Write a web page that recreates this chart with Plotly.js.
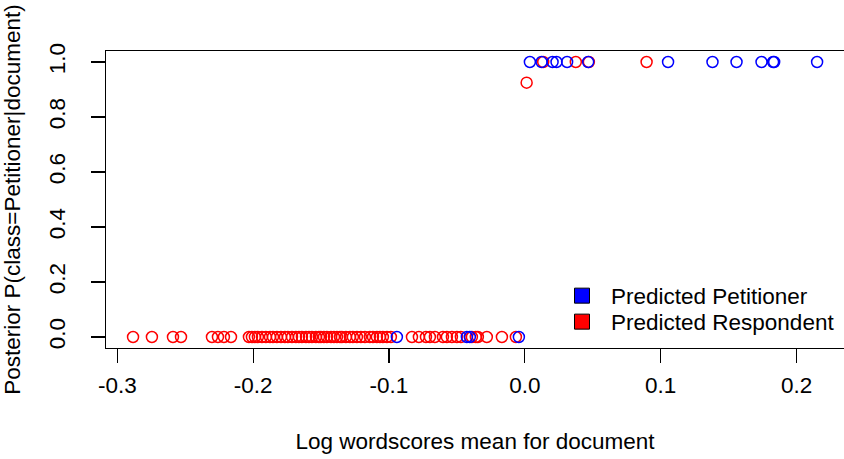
<!DOCTYPE html>
<html>
<head>
<meta charset="utf-8">
<script src="https://cdn.plot.ly/plotly-3.0.1.min.js"></script>
<style>html,body{margin:0;padding:0;background:#fff;}#chart{width:844px;height:459px;}</style>
</head>
<body>
<div id="chart"></div>
<script>
// Predicted Respondent (red) documents
var respX = [-0.2884,-0.2745,-0.2590,-0.2531,-0.2303,-0.2259,-0.2215,-0.2163,-0.2031,-0.2009,
  -0.1987,-0.1965,-0.1935,-0.1906,-0.1876,-0.1854,-0.1825,-0.1795,-0.1766,-0.1744,
  -0.1714,-0.1685,-0.1663,-0.1641,-0.1611,-0.1589,-0.1567,-0.1538,-0.1516,-0.1501,
  -0.1479,-0.1457,-0.1427,-0.1405,-0.1383,-0.1361,-0.1347,-0.1317,-0.1288,-0.1266,
  -0.1236,-0.1207,-0.1177,-0.1141,-0.1118,-0.1089,-0.1067,-0.1045,-0.1015,-0.0986,
  -0.0831,-0.0780,-0.0728,-0.0699,-0.0662,-0.0603,-0.0574,-0.0537,-0.0500,-0.0471,
  -0.0390,-0.0361,-0.0346,-0.0280,-0.0169,-0.0066,
  0.0013,0.0135,0.0375,0.0471,0.0896];
var respY = [0,0,0,0,0,0,0,0,0,0, 0,0,0,0,0,0,0,0,0,0, 0,0,0,0,0,0,0,0,0,0,
  0,0,0,0,0,0,0,0,0,0, 0,0,0,0,0,0,0,0,0,0, 0,0,0,0,0,0,0,0,0,0,
  0,0,0,0,0,0,
  0.925,1,1,1,1];
// Predicted Petitioner (blue) documents
var petX = [-0.0942,-0.0427,-0.0405,-0.0044,
  0.0037,0.0123,0.0204,0.0233,0.0311,0.0466,0.1054,0.1381,0.1558,0.1742,0.1827,0.1835,0.2151];
var petY = [0,0,0,0, 1,1,1,1,1,1,1,1,1,1,1,1,1];

var xTicks = [-0.3,-0.2,-0.1,0.0,0.1,0.2];
var xTickText = ['-0.3','-0.2','-0.1','0.0','0.1','0.2'];
var yTicks = [0,0.2,0.4,0.6,0.8,1.0];
var yTickText = ['0.0','0.2','0.4','0.6','0.8','1.0'];
var legendNames = ['Predicted Petitioner','Predicted Respondent'];

var FONT = 'Liberation Sans, Arial, Helvetica, sans-serif';
var FS = 22.5;

var circ = function(c){ return {symbol:'circle-open', size:11, color:c, line:{color:c, width:1.5}}; };

var data = [
  {x: respX, y: respY, type:'scatter', mode:'markers', marker: circ('#FF0000'), showlegend:false, hoverinfo:'x+y'},
  {x: petX, y: petY, type:'scatter', mode:'markers', marker: circ('#0000FF'), showlegend:false, hoverinfo:'x+y'},
  {x:[null], y:[null], type:'scatter', mode:'markers', name: legendNames[0], legend:'legend',
   marker:{symbol:'square', size:15, color:'#0000FF', line:{color:'#000', width:1}}},
  {x:[null], y:[null], type:'scatter', mode:'markers', name: legendNames[1], legend:'legend2',
   marker:{symbol:'square', size:15, color:'#FF0000', line:{color:'#000', width:1}}}
];

var legCommon = {xanchor:'left', yanchor:'middle', bgcolor:'rgba(0,0,0,0)', borderwidth:0,
  font:{family:FONT, size:FS, color:'#000'}, itemwidth:48, itemsizing:'trace'};

var layout = {
  width:844, height:459,
  margin:{l:106, r:0, t:51, b:111},
  paper_bgcolor:'#fff', plot_bgcolor:'#fff',
  font:{family:FONT, size:FS, color:'#000'},
  xaxis:{
    range:[-0.3083,0.2349], tickvals:xTicks, ticktext:xTickText,
    showgrid:false, zeroline:false, showline:true, mirror:true, linecolor:'#000', linewidth:1.2,
    ticks:'outside', ticklen:14, tickwidth:1.2, tickcolor:'#000', ticklabelstandoff:3,
    tickfont:{family:FONT, size:FS, color:'#000'},
    title:{text:'Log wordscores mean for document', font:{family:FONT, size:FS, color:'#000'}, standoff:36},
    automargin:false
  },
  yaxis:{
    range:[-0.04,1.04], tickvals:yTicks, ticktext:yTickText, tickangle:-90,
    showgrid:false, zeroline:false, showline:true, mirror:true, linecolor:'#000', linewidth:1.2,
    ticks:'outside', ticklen:14, tickwidth:1.2, tickcolor:'#000', ticklabelstandoff:17,
    tickfont:{family:FONT, size:FS, color:'#000'},
    title:{text:'Posterior P(class=Petitioner|document)', font:{family:FONT, size:FS, color:'#000'}, standoff:20},
    automargin:false
  },
  legend: Object.assign({x:0.6057, y:0.175}, legCommon),
  legend2: Object.assign({x:0.6057, y:0.0875}, legCommon)
};

Plotly.newPlot('chart', data, layout, {displayModeBar:false, staticPlot:true});
</script>
</body>
</html>
